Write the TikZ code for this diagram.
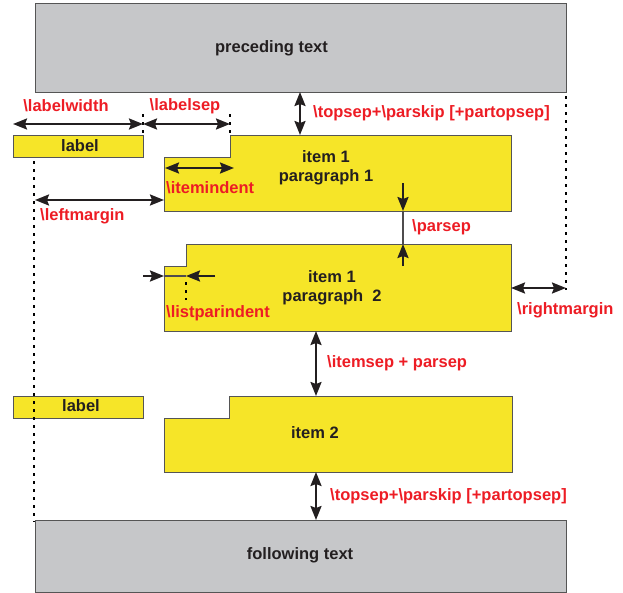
\documentclass[tikz,border=0pt]{standalone}
\usepackage{fontspec}
\setmainfont{Liberation Sans}
\usetikzlibrary{arrows.meta}
\definecolor{boxgray}{HTML}{C6C7C9}
\definecolor{boxyellow}{HTML}{F6E528}
\definecolor{lred}{HTML}{ED1C24}
\definecolor{ink}{HTML}{231F20}
\definecolor{edge}{HTML}{555555}
\begin{document}
\begin{tikzpicture}[x=1pt,y=-1pt,
  every node/.style={font=\fontsize{16.5}{18}\selectfont\bfseries, inner sep=0pt},
  txt/.style={text=ink},
  lbl/.style={text=lred},
  gbox/.style={fill=boxgray, draw=edge, line width=0.9pt},
  ybox/.style={fill=boxyellow, draw=edge, line width=0.9pt},
  dimb/.style={draw=ink, line width=2.2pt, arrows={Stealth[length=14pt,width=11pt,inset=2pt]-Stealth[length=14pt,width=11pt,inset=2pt]}},
  dime/.style={draw=ink, line width=2.2pt, arrows={-Stealth[length=14pt,width=11pt,inset=2pt]}},
  dotline/.style={draw=black, line width=2.8pt, dash pattern=on 2.8pt off 5.2pt},
  thin/.style={draw=ink!80, line width=1.1pt}]
\useasboundingbox (0,0) rectangle (623,592);

% grey boxes
\draw[gbox] (35,3) rectangle (566,92);
\draw[gbox] (35,520) rectangle (566,592);
\node[txt] (prec) at (271.5,48) {preceding text};
\node[txt] (foll) at (300,555) {following text};

% label boxes
\draw[ybox] (13,135) rectangle (143,157);
\draw[ybox] (13,396) rectangle (143,418);
\node[txt] (lab1) at (80,146) {label};
\node[txt] (lab2) at (81,406) {label};

% item boxes
\draw[ybox] (164,157) -- (230,157) -- (230,135) -- (511,135) -- (511,211) -- (164,211) -- cycle;
\draw[ybox] (164,266) -- (186,266) -- (186,244) -- (511,244) -- (511,331) -- (164,331) -- cycle;
\draw[ybox] (164,418) -- (229,418) -- (229,396) -- (512,396) -- (512,472) -- (164,472) -- cycle;
\node[txt] (i1a) at (326,157) {item 1};
\node[txt] (i1b) at (326,177) {paragraph 1};
\node[txt] (i2a) at (332,277) {item 1};
\node[txt] (i2b) at (332,297) {paragraph\ \ 2};
\node[txt] (i3) at (315,433) {item 2};

% coordinates
\coordinate (lw1) at (13,124);
\coordinate (lw2) at (143,124);
\coordinate (ls2) at (230,124);
\coordinate (ts1) at (300,92);
\coordinate (ts2) at (300,135);
\coordinate (ii1) at (165,168);
\coordinate (ii2) at (234,168);
\coordinate (lm1) at (35,200);
\coordinate (lm2) at (164,200);
\coordinate (ps0) at (403,183);
\coordinate (ps1) at (403,211);
\coordinate (ps2) at (403,244);
\coordinate (ps3) at (403,266);
\coordinate (lp0) at (143,276);
\coordinate (lp1) at (164,276);
\coordinate (lp2) at (186,276);
\coordinate (lp3) at (215,276);
\coordinate (rm1) at (511,288);
\coordinate (rm2) at (566,288);
\coordinate (is1) at (316,331);
\coordinate (is2) at (316,396);
\coordinate (bs1) at (316,472);
\coordinate (bs2) at (316,520);

% dotted guides
\draw[dotline] (34,161) -- (34,522);
\draw[dotline] (566,96) -- (566,290);
\draw[dotline] (143,114) -- (143,134);
\draw[dotline] (230,114) -- (230,134);
\draw[dotline] (186,282) -- (186,300);

% dimension arrows
\draw[dimb] (lw1) -- (lw2);
\draw[dimb] (lw2) -- (ls2);
\draw[dimb] (ts1) -- (ts2);
\draw[dimb] (ii1) -- (ii2);
\draw[dimb] (lm1) -- (lm2);
\draw[dime] (ps0) -- (ps1);
\draw[thin] (ps1) -- (ps2);
\draw[dime] (ps3) -- (ps2);
\draw[dime] (lp0) -- (lp1);
\draw[thin] (lp1) -- (lp2);
\draw[dime] (lp3) -- (lp2);
\draw[dimb] (rm1) -- (rm2);
\draw[dimb] (is1) -- (is2);
\draw[dimb] (bs1) -- (bs2);

% red labels
\node[lbl] (tlw) at (66,106) {\textbackslash labelwidth};
\node[lbl] (tls) at (185,106) {\textbackslash labelsep};
\node[lbl, anchor=west] (tts) at (313,113) {\textbackslash topsep+\textbackslash parskip [+partopsep]};
\node[lbl, anchor=west] (tii) at (166,188) {\textbackslash itemindent};
\node[lbl, anchor=west] (tlm) at (40,216) {\textbackslash leftmargin};
\node[lbl, anchor=west] (tps) at (412,227) {\textbackslash parsep};
\node[lbl, anchor=west] (tlp) at (166,313) {\textbackslash listparindent};
\node[lbl, anchor=west] (trm) at (517,310) {\textbackslash rightmargin};
\node[lbl, anchor=west] (tis) at (327,363) {\textbackslash itemsep + parsep};
\node[lbl, anchor=west] (tbs) at (330,496) {\textbackslash topsep+\textbackslash parskip [+partopsep]};
\end{tikzpicture}
\end{document}
